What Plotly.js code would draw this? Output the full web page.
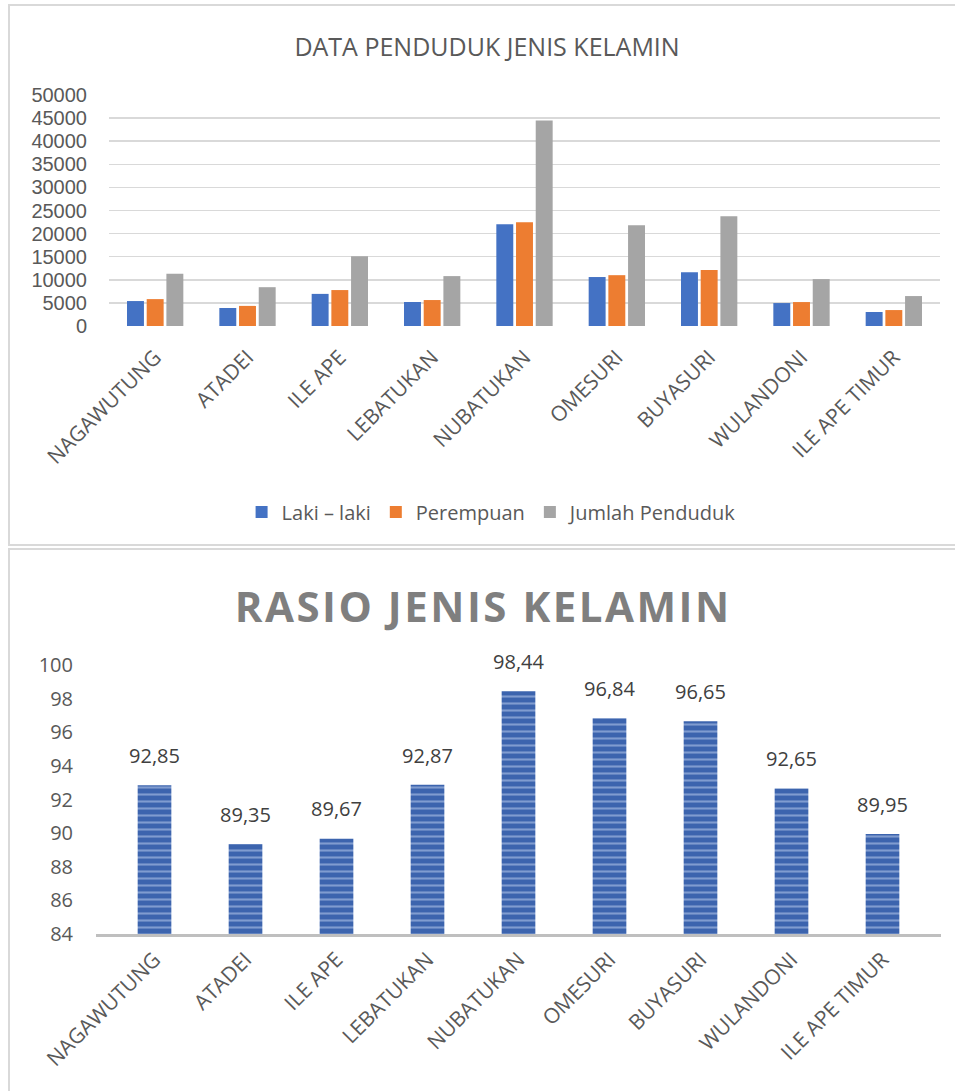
<!DOCTYPE html>
<html>
<head>
<meta charset="utf-8">
<script src="https://cdn.plot.ly/plotly-3.0.1.min.js"></script>
<style>
  html, body { margin:0; padding:0; background:#fff; width:955px; height:1091px; overflow:hidden; }
  #box1 { position:absolute; left:8px; top:4px; width:1000px; height:542px; border:2px solid #d9d9d9; box-sizing:border-box; }
  #box2 { position:absolute; left:8px; top:548px; width:1000px; height:600px; border-left:2px solid #d9d9d9; border-top:2px solid #d9d9d9; box-sizing:border-box; }
  #chart1 { position:absolute; left:0; top:0; width:955px; height:550px; }
  #chart2 { position:absolute; left:0; top:550px; width:955px; height:541px; }
</style>
</head>
<body>
<div id="box1"></div>
<div id="box2"></div>
<div id="chart1"></div>
<div id="chart2"></div>
<script>
// ---- data ----
const categories = ["NAGAWUTUNG", "ATADEI", "ILE APE", "LEBATUKAN", "NUBATUKAN", "OMESURI", "BUYASURI", "WULANDONI", "ILE APE TIMUR"];
const lakiLaki   = [5400, 3900, 6950, 5200, 22050, 10600, 11650, 4970, 3030];
const perempuan  = [5820, 4350, 7780, 5620, 22450, 11000, 12100, 5180, 3450];
const jumlah     = [11300, 8400, 15100, 10800, 44500, 21800, 23750, 10150, 6480];
const rasio      = [92.85, 89.35, 89.67, 92.87, 98.44, 96.84, 96.65, 92.65, 89.95];

const title1 = "DATA PENDUDUK JENIS KELAMIN";
const title2 = "RASIO JENIS KELAMIN";
const seriesNames = ["Laki – laki", "Perempuan", "Jumlah Penduduk"];

const FONT = "Open Sans, sans-serif";
const cfg = {staticPlot:true, displayModeBar:false};

// ---- chart 1 ----
const colors1 = ["#4472c4", "#ed7d31", "#a5a5a5"];
const traces1 = [lakiLaki, perempuan, jumlah].map((vals, i) => ({
  type: "bar", x: categories, y: vals, name: seriesNames[i],
  marker: {color: colors1[i]}, hoverinfo: "skip"
}));
const layout1 = {
  width: 955, height: 550,
  paper_bgcolor: "rgba(0,0,0,0)", plot_bgcolor: "rgba(0,0,0,0)",
  margin: {l:109, r:15, t:95, b:224},
  font: {family: FONT, color: "#595959", size: 20},
  title: {text: title1, font: {family: FONT, size: 25, color: "#595959"},
          x: 0.51, xref: "container", xanchor: "center", y: 1 - 47/550, yref: "container", yanchor: "middle"},
  barmode: "group", bargap: 0.36, bargroupgap: 0.14,
  xaxis: {type: "category", tickangle: -45, showgrid: false, showline: false, zeroline: false,
          ticks: "", tickfont: {family: FONT, size: 21, color: "#595959"}, ticklabelstandoff: 14},
  yaxis: {range: [0, 50000], dtick: 5000, showgrid: true, gridcolor: "#d9d9d9", gridwidth: 1.5,
          zeroline: false, showline: false, ticks: "",
          tickfont: {family: "Liberation Sans, Arial, sans-serif", size: 20, color: "#595959"},
          ticklabelstandoff: 21, tickformat: "d"},
  legend: {orientation: "h", x: 0.461, xanchor: "center", y: -0.805, yanchor: "middle",
           font: {family: FONT, size: 20, color: "#595959"}, itemclick: false, traceorder: "normal"},
  showlegend: true
};
Plotly.newPlot("chart1", traces1, layout1, cfg);

// ---- chart 2 ----
const traces2 = [
  {type: "bar", x: categories, y: rasio, showlegend: false, hoverinfo: "skip",
   marker: {color: "#3c64ae", line: {width: 0},
            pattern: {shape: "-", size: 7, solidity: 0.3, fgcolor: "#c3d4f1", fillmode: "overlay"}}},
  {type: "scatter", mode: "markers+text", x: categories, y: rasio, showlegend: false, hoverinfo: "skip",
   cliponaxis: false,
   marker: {size: 26, color: "rgba(0,0,0,0)"},
   texttemplate: "%{y:.2f}", textposition: "top center",
   textfont: {family: FONT, size: 20, color: "#404040"}}
];
const layout2 = {
  width: 955, height: 541, separators: ",.",
  paper_bgcolor: "rgba(0,0,0,0)", plot_bgcolor: "rgba(0,0,0,0)",
  margin: {l:96, r:14, t:115, b:157},
  font: {family: FONT, color: "#595959", size: 20},
  title: {text: "<b>" + title2 + "</b>", font: {family: FONT, size: 42, color: "#7f7f7f"},
          x: 0.506, xref: "container", xanchor: "center", y: 1 - 57/541, yref: "container", yanchor: "middle"},
  bargap: 0.63,
  xaxis: {type: "category", tickangle: -45, showgrid: false, zeroline: false,
          showline: true, linecolor: "#bfbfbf", linewidth: 3,
          ticks: "", tickfont: {family: FONT, size: 21, color: "#595959"}, ticklabelstandoff: 2},
  yaxis: {range: [84, 100], dtick: 2, showgrid: false, zeroline: false, showline: false, ticks: "",
          tickfont: {family: FONT, size: 20, color: "#595959"}, ticklabelstandoff: 22}
};
Plotly.newPlot("chart2", traces2, layout2, cfg).then(() => {
  const t = document.querySelector("#chart2 .gtitle");
  if (t) t.style.letterSpacing = "2.5px";
});
</script>
</body>
</html>
